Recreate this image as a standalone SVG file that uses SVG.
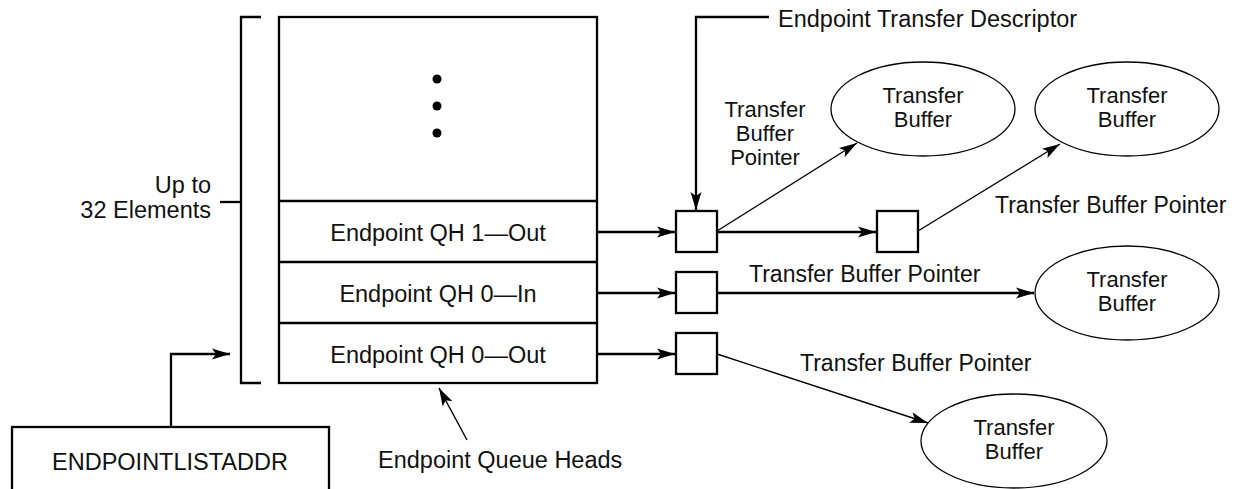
<svg xmlns="http://www.w3.org/2000/svg" width="1235" height="489" viewBox="0 0 1235 489">
<style>
text{font-family:"Liberation Sans",Arial,sans-serif;fill:#111;}
.l{font-size:23.5px;}
.m{font-size:23px;}
.s{font-size:22px;}
.c{text-anchor:middle;}
.e{text-anchor:end;}
.thick{fill:none;stroke:#000;stroke-width:2.3;}
.thin{fill:none;stroke:#000;stroke-width:1.4;}
.ell{fill:#fff;stroke:#000;stroke-width:1.3;}
</style>
<defs>
<marker id="ah" markerUnits="userSpaceOnUse" markerWidth="20" markerHeight="14" refX="18" refY="6" orient="auto">
<path d="M0,0.5 L18,6 L0,11.5 L4,6 Z" fill="#000"/>
</marker>
</defs>

<g id="bracket">
<path class="thick" d="M261,17 H241 V383 H261"/>
<path class="thick" d="M220,202 H241"/>
<text class="l e" x="211" y="193">Up to</text>
<text class="l e" x="211" y="218">32 Elements</text>
</g>

<g id="queue-heads">
<rect class="thick" x="279" y="17" width="318" height="366" fill="#fff"/>
<path class="thick" d="M279,201 H597 M279,262 H597 M279,323 H597"/>
<circle cx="437" cy="79" r="4.5" fill="#000"/>
<circle cx="437" cy="106" r="4.5" fill="#000"/>
<circle cx="437" cy="133" r="4.5" fill="#000"/>
<text class="l c" x="438" y="241">Endpoint QH 1—Out</text>
<text class="l c" x="438" y="302">Endpoint QH 0—In</text>
<text class="l c" x="438" y="363">Endpoint QH 0—Out</text>
</g>

<g id="endpointlistaddr">
<rect class="thick" x="12" y="427" width="317" height="80" fill="#fff"/>
<text class="l c" x="170" y="470">ENDPOINTLISTADDR</text>
</g>

<g id="td-1-out-a"><rect class="thick" x="676" y="211" width="41" height="41"/></g>
<g id="td-1-out-b"><rect class="thick" x="877" y="211" width="41" height="41"/></g>
<g id="td-0-in"><rect class="thick" x="676" y="272" width="41" height="41"/></g>
<g id="td-0-out"><rect class="thick" x="676" y="333" width="41" height="41"/></g>

<g id="buffer-1">
<ellipse class="ell" cx="923" cy="109" rx="92" ry="47"/>
<text class="s c" x="923" y="103">Transfer</text>
<text class="s c" x="923" y="127">Buffer</text>
</g>
<g id="buffer-2">
<ellipse class="ell" cx="1127" cy="109" rx="92" ry="47"/>
<text class="s c" x="1127" y="103">Transfer</text>
<text class="s c" x="1127" y="127">Buffer</text>
</g>
<g id="buffer-3">
<ellipse class="ell" cx="1127" cy="293" rx="92" ry="47"/>
<text class="s c" x="1127" y="287">Transfer</text>
<text class="s c" x="1127" y="311">Buffer</text>
</g>
<g id="buffer-4">
<ellipse class="ell" cx="1014" cy="441" rx="93" ry="47"/>
<text class="s c" x="1014" y="435">Transfer</text>
<text class="s c" x="1014" y="459">Buffer</text>
</g>

<g id="labels">
<text class="l" x="778" y="27">Endpoint Transfer Descriptor</text>
<text class="s c" x="765" y="117">Transfer</text>
<text class="s c" x="765" y="141">Buffer</text>
<text class="s c" x="765" y="165">Pointer</text>
<text class="m" x="995" y="213">Transfer Buffer Pointer</text>
<text class="m" x="749" y="282">Transfer Buffer Pointer</text>
<text class="m" x="800" y="371">Transfer Buffer Pointer</text>
<text class="l" x="378" y="468">Endpoint Queue Heads</text>
</g>

<g id="connectors">
<path class="thick" d="M171,427 V354 H230" marker-end="url(#ah)"/>
<path class="thick" d="M769,17 H696 V210" marker-end="url(#ah)"/>
<path class="thick" d="M597,232 H675" marker-end="url(#ah)"/>
<path class="thick" d="M597,293 H675" marker-end="url(#ah)"/>
<path class="thick" d="M597,354 H675" marker-end="url(#ah)"/>
<path class="thick" d="M717,232 H876" marker-end="url(#ah)"/>
<path class="thick" d="M717,293 H1034" marker-end="url(#ah)"/>
<path class="thin" d="M717,231 L857,143" marker-end="url(#ah)"/>
<path class="thin" d="M918,231 L1060,144" marker-end="url(#ah)"/>
<path class="thin" d="M717,354 L928,423" marker-end="url(#ah)"/>
<path class="thin" d="M467,440 L439,388" marker-end="url(#ah)"/>
</g>
</svg>
